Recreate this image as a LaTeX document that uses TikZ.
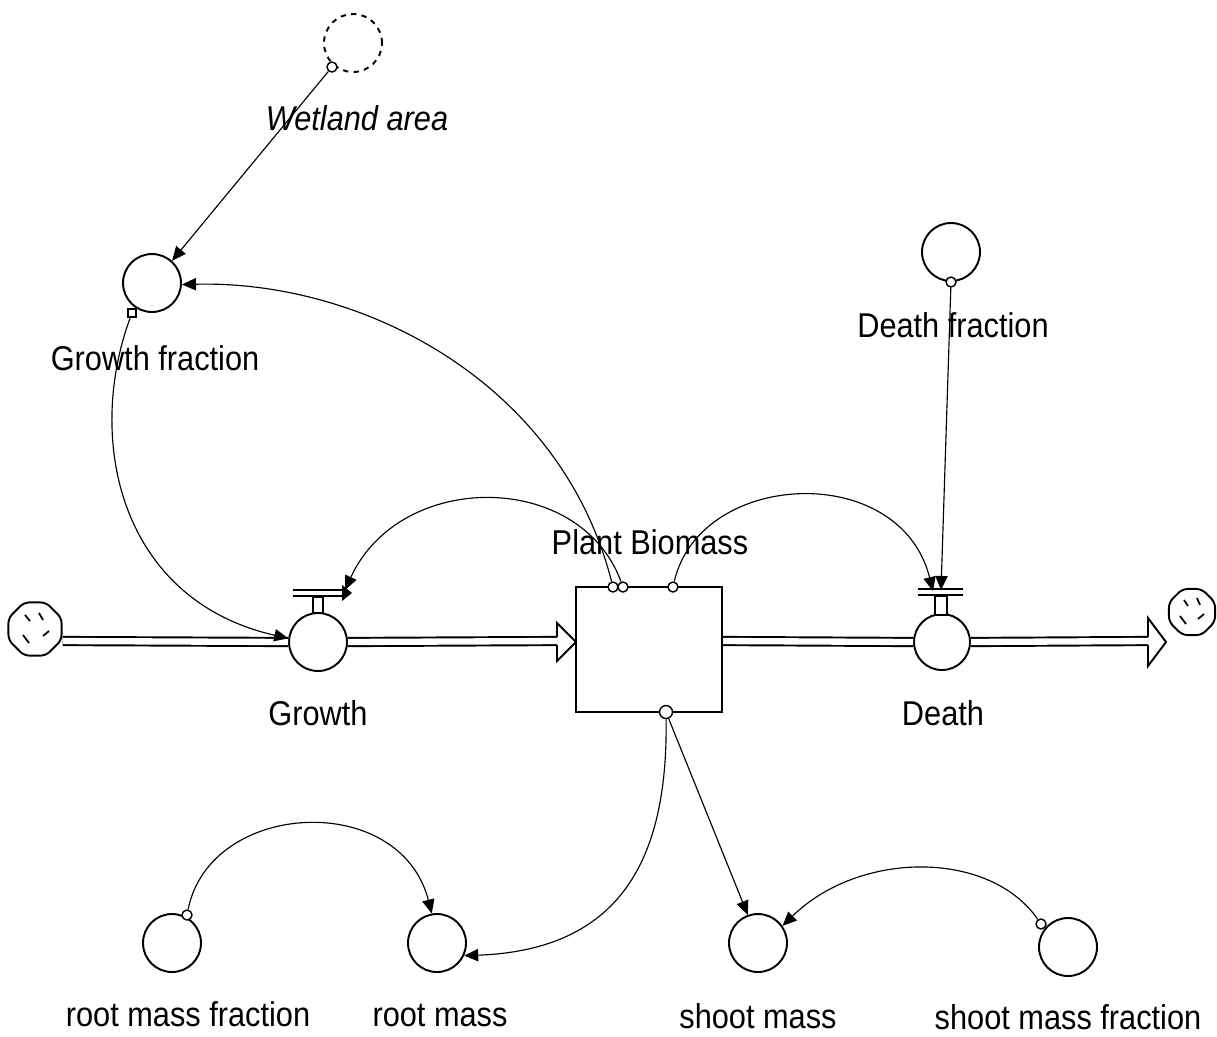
\documentclass[tikz,border=0pt]{standalone}
\usepackage{fontspec}
\setmainfont{Liberation Sans}
\usetikzlibrary{arrows.meta,shapes.geometric}
\newcommand{\vst}[1]{\scalebox{1}[1.12]{#1}}
\begin{document}
\begin{tikzpicture}[x=0.02cm,y=-0.02cm,
  aux/.style={circle,draw,line width=1.1pt,minimum size=1.16cm,inner sep=0pt,fill=white},
  lbl/.style={font=\fontsize{17.5}{19}\selectfont,inner sep=0pt},
  conn/.style={line width=0.65pt,-{Triangle[length=8pt,width=7pt]}},
  org/.style={circle,draw,line width=0.8pt,minimum size=0.2cm,inner sep=0pt,fill=white},
  pipe/.style={double,double distance=3.6pt,line width=1.1pt},
  cloud/.style={regular polygon,regular polygon sides=8,draw,line width=1.1pt,minimum size=1.15cm,inner sep=0pt,rounded corners=3pt},
  tick/.style={line width=1pt},
]
\useasboundingbox (0,0) rectangle (1217,1036);

% stock
\node[draw,line width=1.2pt,minimum width=2.92cm,minimum height=2.5cm,inner sep=0pt,fill=white] (pb) at (649,649.5) {};
\node[lbl] (pbl) at (650,542) {\vst{Plant Biomass}};

% clouds
\node[cloud] (src) at (35,629) {};
\draw[tick] (src.center) ++(-10,-14) -- ++(5,6);
\draw[tick] (src.center) ++(4,-16) -- ++(4,7);
\draw[tick] (src.center) ++(14,2) -- ++(-6,5);
\draw[tick] (src.center) ++(-12,6) -- ++(6,8);
\node[cloud,minimum size=1.0cm] (snk) at (1192,612) {};
\draw[tick] (snk.center) ++(-8,-12) -- ++(4,6);
\draw[tick] (snk.center) ++(5,-14) -- ++(3,7);
\draw[tick] (snk.center) ++(12,2) -- ++(-6,5);
\draw[tick] (snk.center) ++(-12,4) -- ++(6,8);

% converters
\node[aux,dashed] (wa) at (353,43) {};
\node[aux] (gf) at (152,283) {};
\node[aux] (df) at (951,252) {};
\node[aux] (gv) at (318,642) {};
\node[aux,minimum size=1.12cm] (dv) at (942,642) {};
\node[aux] (rmf) at (172,943) {};
\node[aux] (rm) at (437,943) {};
\node[aux] (sm) at (758,943) {};
\node[aux] (smf) at (1068,947) {};

% pipes
\coordinate (ah1) at (557,641);
\coordinate (ah2) at (1148,641);
\draw[pipe] (src.east |- 0,641) -- (gv.west);
\draw[pipe] (gv.east) -- (ah1);
\draw[pipe] (pb.east |- 0,641) -- (dv.west);
\draw[pipe] (dv.east) -- (ah2);
\draw[line width=1.1pt,line join=miter] (557,637) -- (557,623) -- (576,642) -- (557,661) -- (557,645);
\draw[line width=1.1pt,line join=miter] (1148,637) -- (1148,618) -- (1166,642) -- (1148,666) -- (1148,645);

% valves
\draw[line width=1pt,fill=white] (313,597) rectangle (323,613);
\draw[double,double distance=2.6pt,line width=1pt] (293,593) -- (342,593);
\fill (342,585) -- (352,593) -- (342,601) -- cycle;
\coordinate (gvbar) at (345,590);
\draw[line width=1pt,fill=white] (935,596) rectangle (947,615);
\draw[double,double distance=2.6pt,line width=1pt] (918,592) -- (963,592);
\coordinate (dvbar) at (933,591);
\coordinate (dvbar2) at (941,590);

% labels
\node[lbl] at (357,118) {\vst{\itshape Wetland area}};
\node[lbl] at (155,358) {\vst{Growth fraction}};
\node[lbl] at (953,325) {\vst{Death fraction}};
\node[lbl] at (318,713) {\vst{Growth}};
\node[lbl] at (943,713) {\vst{Death}};
\node[lbl] at (188,1014) {\vst{root mass fraction}};
\node[lbl] at (440,1016) {\vst{root mass}};
\node[lbl] at (758,1016) {\vst{shoot mass}};
\node[lbl] at (1068,1017) {\vst{shoot mass fraction}};

% connector origins
\node[org] (owa) at (332,67) {};
\node[org,rectangle,minimum size=0.16cm] (ogf) at (132,313) {};
\node[org] (odf) at (951,282) {};
\node[org] (ob1) at (613,587) {};
\node[org] (ob2) at (623,587) {};
\node[org] (ob3) at (673,587) {};
\node[org,minimum width=0.26cm] (ob4) at (666,712) {};
\node[org] (ormf) at (187,915) {};
\node[org] (osmf) at (1041,924) {};

% connectors
\draw[conn] (owa) -- (gf.48);
\draw[conn] (ob1) .. controls (560,380) and (360,280) .. (gf.-3);
\draw[conn] (ogf) .. controls (85,440) and (120,600) .. (gv.173);
\draw[conn] (ob2) .. controls (580,470) and (400,470) .. (gvbar);
\draw[conn] (ob3) .. controls (700,470) and (900,460) .. (dvbar);
\draw[conn] (odf) -- (dvbar2);
\draw[conn] (ob4) .. controls (668,860) and (620,950) .. (rm.-25);
\draw[conn] (ob4) -- (sm.110);
\draw[conn] (ormf) .. controls (210,800) and (400,790) .. (rm.100);
\draw[conn] (osmf) .. controls (990,850) and (860,850) .. (sm.35);
\end{tikzpicture}
\end{document}
